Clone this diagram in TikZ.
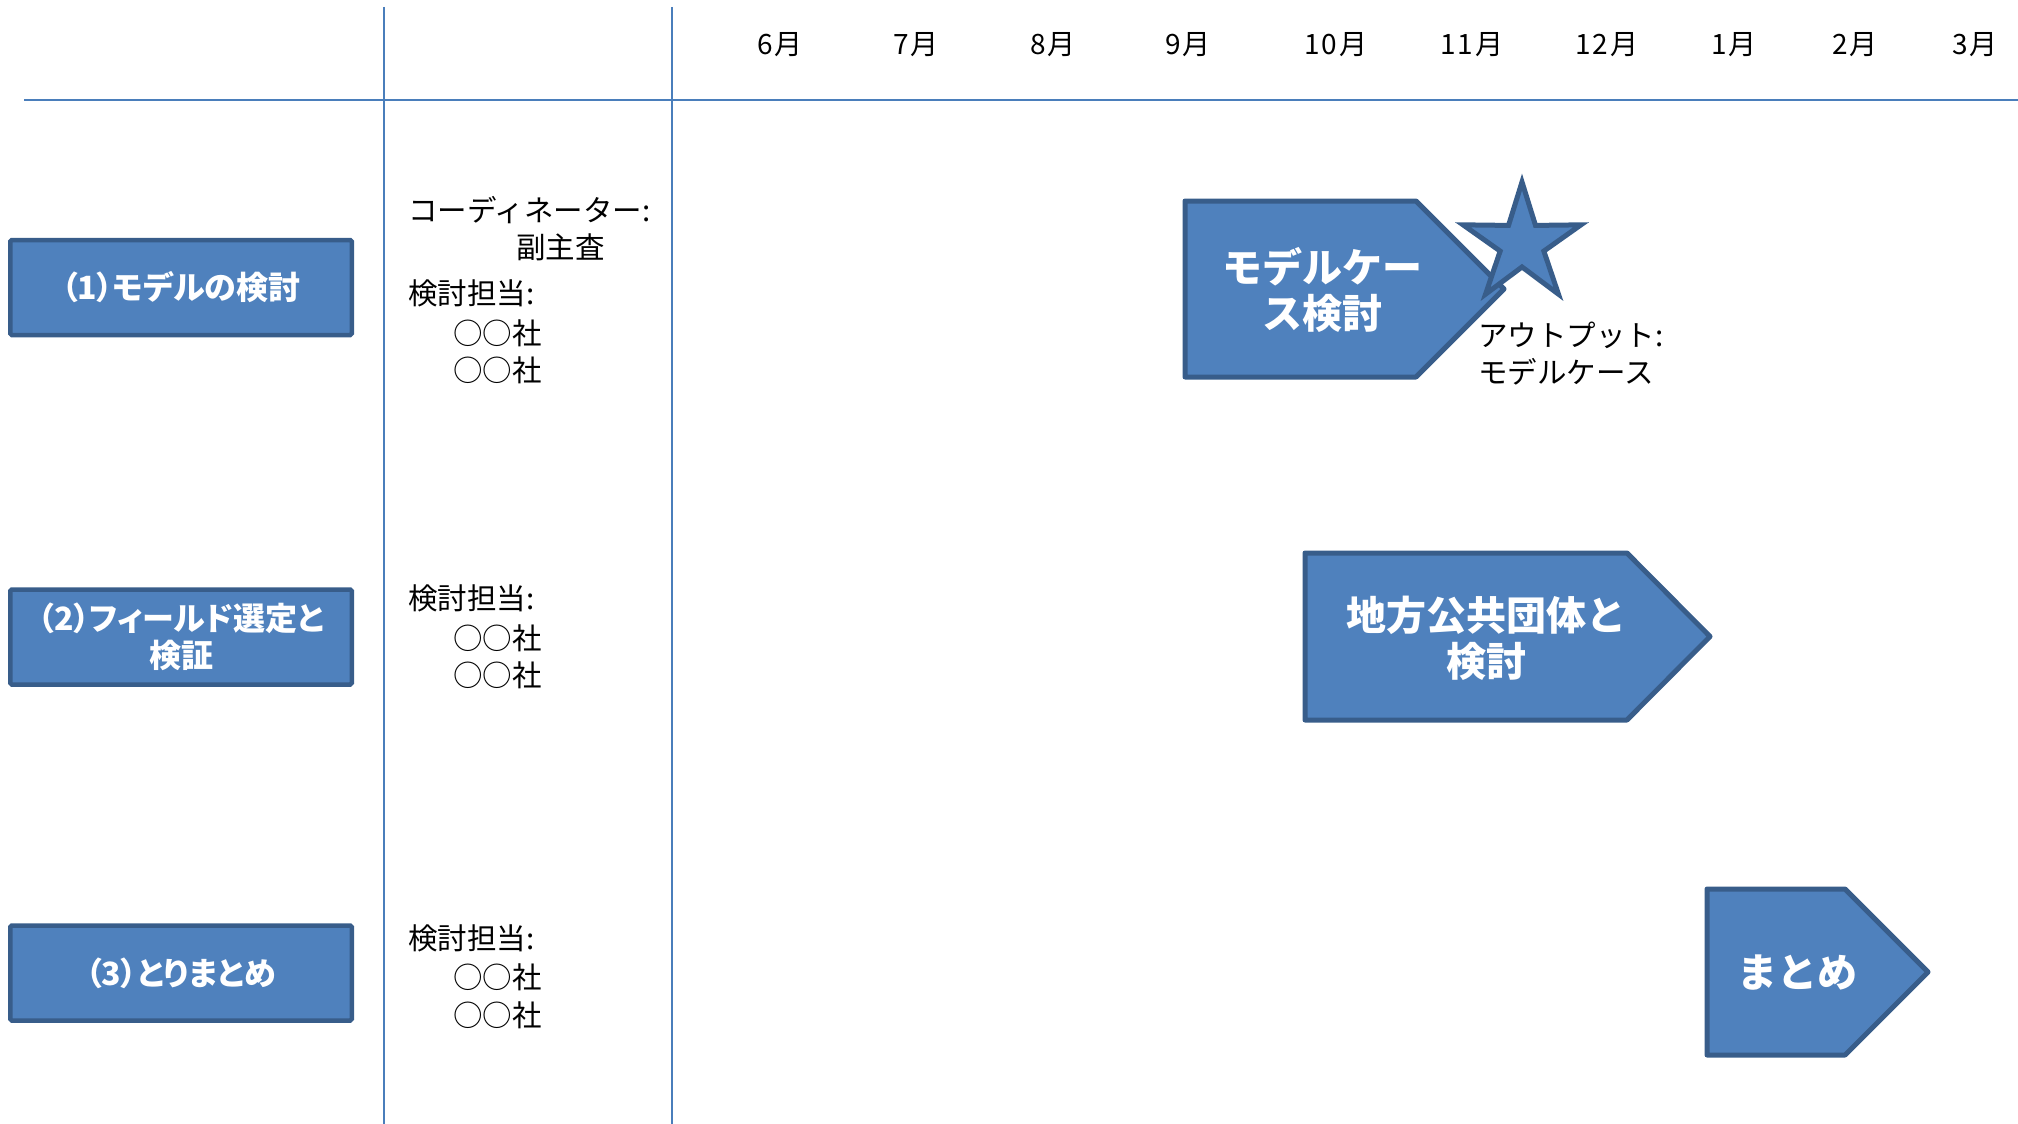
\documentclass[tikz,border=0pt]{standalone}
\usepackage{fontspec}
\setmainfont{Noto Sans CJK JP}
\newfontfamily\pfont{Noto Sans CJK JP}[RawFeature=+palt]
\newfontfamily\mfont{Noto Sans CJK JP}[LetterSpace=6]
\usetikzlibrary{shapes.geometric}
\definecolor{gridblue}{HTML}{4A7EBB}
\definecolor{boxfill}{HTML}{4F81BD}
\definecolor{boxline}{HTML}{385D8A}
\tikzset{
  gridline/.style={draw=gridblue, line width=2pt},
  task/.style={rectangle, fill=boxfill, draw=boxline, line width=4.5pt, rounded corners=1.5pt,
    minimum width=341.5pt, minimum height=95pt, inner sep=0pt, text=white, align=center,
    font=\pfont\bfseries\fontsize{32}{37}\selectfont},
  phase/.style={fill=boxfill, draw=boxline, line width=5pt, line join=round},
  phasetext/.style={text=white, align=center, inner sep=0pt, font=\bfseries\fontsize{40}{46}\selectfont},
  info/.style={anchor=west, inner sep=0pt, font=\fontsize{29.5}{34}\selectfont},
  month/.style={inner sep=0pt, font=\mfont\fontsize{28}{32}\selectfont},
  milestone/.style={star, star points=5, star point ratio=2.7, minimum size=124pt, inner sep=0pt,
    fill=boxfill, draw=boxline, line width=5pt},
}
\begin{document}
\begin{tikzpicture}[x=1pt, y=-1pt]
\useasboundingbox (0,0) rectangle (2018,1124);
% grid
\coordinate (hl) at (24,100);
\coordinate (hr) at (2018,100);
\coordinate (v1t) at (384,7);
\coordinate (v1b) at (384,1124);
\coordinate (v2t) at (672,7);
\coordinate (v2b) at (672,1124);
\draw[gridline] (hl) -- (hr);
\draw[gridline] (v1t) -- (v1b);
\draw[gridline] (v2t) -- (v2b);
% months
\node[month] (m6) at (780,45) {6月};
\node[month] (m7) at (916,45) {7月};
\node[month] (m8) at (1053,45) {8月};
\node[month] (m9) at (1188,45) {9月};
\node[month] (m10) at (1336,45) {10月};
\node[month] (m11) at (1472,45) {11月};
\node[month] (m12) at (1607,45) {12月};
\node[month] (m1) at (1734,45) {1月};
\node[month] (m2) at (1855,45) {2月};
\node[month] (m3) at (1975,45) {3月};
% task boxes
\node[task] (t1) at (181,287.5) {（1）モデルの検討};
\node[task] (t2) at (181,637) {（2）フィールド選定と\\検証};
\node[task] (t3) at (181,973) {（3）とりまとめ};
% info texts
\node[info] (c1) at (408,210) {コーディネーター:};
\node[info] (c2) at (516,247) {副主査};
\node[info] (a1) at (408,293) {検討担当:};
\node[info] (a2) at (453,333) {○○社};
\node[info] (a3) at (453,370) {○○社};
\node[info] (b1) at (408,598) {検討担当:};
\node[info] (b2) at (453,638) {○○社};
\node[info] (b3) at (453,675) {○○社};
\node[info] (d1) at (408,938) {検討担当:};
\node[info] (d2) at (453,977) {○○社};
\node[info] (d3) at (453,1015) {○○社};
% phase arrows
\draw[phase] (1185,201) -- (1416,201) -- (1504,289) -- (1416,377) -- (1185,377) -- cycle;
\node[phasetext] (p1) at (1322,290) {モデルケー\\ス検討};
\draw[phase] (1305,553) -- (1627,553) -- (1710,636.5) -- (1627,720) -- (1305,720) -- cycle;
\node[phasetext] (p2) at (1486,638) {地方公共団体と\\検討};
\draw[phase] (1707,889) -- (1845,889) -- (1928,972) -- (1845,1055) -- (1707,1055) -- cycle;
\node[phasetext] (p3) at (1797,973) {まとめ};
% milestone
\node[milestone] (star) at (1522,244) {};
\node[info] (o1) at (1478,335) {アウトプット:};
\node[info] (o2) at (1478,372) {モデルケース};
\end{tikzpicture}
\end{document}
